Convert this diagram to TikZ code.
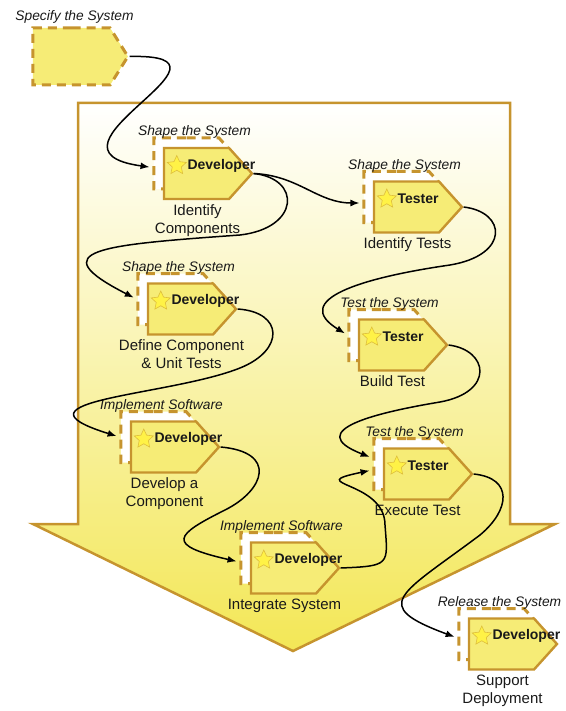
\documentclass[tikz,border=0pt]{standalone}
\usepackage{fontspec}
\setmainfont{Liberation Sans}
\usetikzlibrary{arrows.meta}
\usetikzlibrary{positioning}
\usetikzlibrary{shapes.symbols}
\usetikzlibrary{shapes.geometric}
\definecolor{taskedge}{RGB}{198,148,46}
\definecolor{taskfill}{RGB}{246,236,118}
\definecolor{flowyellow}{RGB}{243,231,86}
\definecolor{starfill}{RGB}{255,242,70}
\definecolor{staredge}{RGB}{222,190,60}
\definecolor{ink}{RGB}{25,25,25}
\tikzset{
    task/.style = {shape=signal,signal to=east,signal pointer angle=96,minimum width=88pt,minimum height=51pt,inner sep=0,draw=taskedge,line width=2.4pt,fill=taskfill},
    taskback/.style = {task,fill=white,line width=3pt,dash pattern=on 9pt off 6pt},
    seed/.style = {task,signal pointer angle=116,minimum width=95pt,minimum height=57pt,line width=3pt,dash pattern=on 9pt off 6pt},
    badge/.style = {shape=star,star points=5,star point ratio=2.1,minimum size=20pt,inner sep=0,fill=starfill,draw=staredge,line width=0.6pt},
    role/.style = {font=\fontsize{14}{16}\selectfont\bfseries,text=ink,inner sep=0},
    phase/.style = {font=\fontsize{13.8}{16}\selectfont\itshape,text=ink,inner sep=0},
    tasklabel/.style = {font=\fontsize{15}{18}\selectfont,align=center,text=ink,inner sep=0},
    flow/.style = {-{Latex[length=9pt,width=7pt]},line width=1.5pt,shorten >=3pt}
}
\begin{document}
\begin{tikzpicture}[x=1pt,y=-1pt]
    \useasboundingbox (0,0) rectangle (565,711);
    % Big arrow
    \path[draw=taskedge,line width=2.5pt,top color=white,bottom color=flowyellow]
        (78,103) -- (510,103) -- (510,524) -- (555,524) -- (293,651) -- (33,524) -- (78,524) -- cycle;
    % Start
    \node[seed] (specify) at (71.5,56.5) {};
    \node[phase,above=3pt of specify.north,xshift=3pt] (specify-phase) {Specify the System};
    % Tasks
    \foreach \n/\x/\y/\who/\phasetext/\what in {
        identcomp/196.5/173.5/Developer/Shape the System/Identify\\Components,
        identtests/406.5/207/Tester/Shape the System/Identify Tests,
        defcomp/180.5/309/Developer/Shape the System/Define Component\\\& Unit Tests,
        buildtest/391.5/345/Tester/Test the System/Build Test,
        devcomp/163.5/447/Developer/Implement Software/Develop a\\Component,
        exectest/416.5/474/Tester/Test the System/Execute Test,
        integrate/283.5/568/Developer/Implement Software/Integrate System,
        deploy/501.5/644/Developer/Release the System/Support\\Deployment}
    {
        \node[taskback] (\n-back) at (\x-10,\y-10) {};
        \node[task] (\n) at (\x,\y) {};
        \node[badge] (\n-star) at ([xshift=14pt,yshift=8pt]\n.west) {};
        \node[role,right=4pt of \n-star] (\n-role) {\who};
        \node[phase,above=8pt of \n.north,xshift=-2pt] (\n-phase) {\phasetext};
        \node[tasklabel,below=4pt of \n.south,xshift=1pt] (\n-label) {\what};
    }
    % Flow
    \draw[flow] (specify.east) .. controls +(130,-3) and +(-129,-18) .. ([yshift=-4pt]identcomp-back.west);
    \draw[flow] (identcomp.east) .. controls +(45,2) and +(-45,0) .. ([yshift=-6pt]identtests-back.west);
    \draw[flow] (identcomp.east) .. controls +(48,5) and +(60,-7) .. (240,235)
        .. controls +(-140,10) and +(-96,-49) .. (defcomp-back.west);
    \draw[flow] (identtests.east) .. controls +(43,5) and +(60,-10) .. (450,265)
        .. controls +(-90,13) and +(-57,-35) .. (buildtest-back.west);
    \draw[flow] (defcomp.east) .. controls +(46,3) and +(45,-18) .. (240,368)
        .. controls +(-70,28) and +(-119,-37) .. (devcomp-back.west);
    \draw[flow] (buildtest.east) .. controls +(40,5) and +(55,-10) .. (440,402)
        .. controls +(-60,10) and +(-72,-28) .. ([yshift=6pt]exectest-back.west);
    \draw[flow] (devcomp.east) .. controls +(57,5) and +(40,-20) .. (225,510)
        .. controls +(-50,25) and +(-75,-17) .. ([yshift=-4pt]integrate-back.west);
    \draw[flow] (integrate.east) .. controls +(50,-2) and +(3,40) .. (385,525)
        .. controls +(0,-45) and +(-72,15) .. ([yshift=-6pt]exectest-back.west);
    \draw[flow] (exectest.east) .. controls +(40,4) and +(30,-25) .. (480,535)
        .. controls +(-80,60) and +(-89,-33) .. ([yshift=-4pt]deploy-back.west);
\end{tikzpicture}
\end{document}
